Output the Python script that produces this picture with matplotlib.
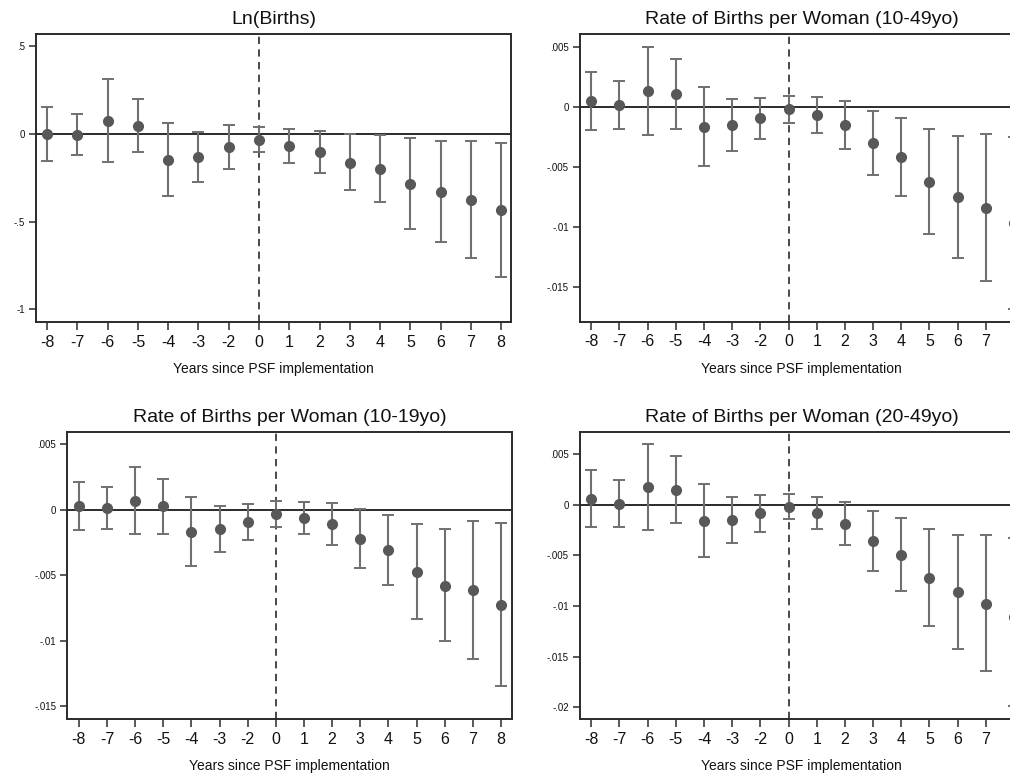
import matplotlib
matplotlib.use("Agg")
import matplotlib.pyplot as plt
import numpy as np

plt.rcParams["font.family"] = ["Liberation Sans", "DejaVu Sans"]

# ---- data ----
year_labels = ["-8", "-7", "-6", "-5", "-4", "-3", "-2", "0",
               "1", "2", "3", "4", "5", "6", "7", "8"]

ln_coef = [0.000, -0.004, 0.076, 0.046, -0.148, -0.133, -0.076, -0.034,
           -0.068, -0.103, -0.163, -0.200, -0.285, -0.331, -0.375, -0.435]
ln_hi = [0.156, 0.114, 0.312, 0.198, 0.065, 0.010, 0.049, 0.040,
         0.030, 0.015, -0.002, -0.006, -0.023, -0.042, -0.038, -0.049]
ln_lo = [-0.152, -0.120, -0.162, -0.105, -0.356, -0.274, -0.200, -0.103,
         -0.163, -0.220, -0.319, -0.388, -0.542, -0.614, -0.709, -0.817]

r1049_coef = [0.00050, 0.00011, 0.00133, 0.00103, -0.00167, -0.00156, -0.00097, -0.00022,
              -0.00072, -0.00156, -0.00306, -0.00422, -0.00628, -0.00756, -0.00844, -0.00967]
r1049_hi = [0.00292, 0.00217, 0.00500, 0.00394, 0.00167, 0.00061, 0.00072, 0.00092,
            0.00081, 0.00047, -0.00033, -0.00092, -0.00183, -0.00244, -0.00231, -0.00255]
r1049_lo = [-0.00192, -0.00189, -0.00236, -0.00186, -0.00497, -0.00369, -0.00267, -0.00136,
            -0.00222, -0.00350, -0.00572, -0.00744, -0.01061, -0.01264, -0.01456, -0.01688]

r1019_coef = [0.00028, 0.00015, 0.00063, 0.00028, -0.00170, -0.00145, -0.00096, -0.00036,
              -0.00063, -0.00109, -0.00221, -0.00310, -0.00472, -0.00579, -0.00614, -0.00726]
r1019_hi = [0.00208, 0.00175, 0.00327, 0.00236, 0.00096, 0.00030, 0.00043, 0.00063,
            0.00061, 0.00053, 0.00008, -0.00041, -0.00109, -0.00150, -0.00089, -0.00104]
r1019_lo = [-0.00152, -0.00145, -0.00188, -0.00183, -0.00431, -0.00320, -0.00234, -0.00129,
            -0.00188, -0.00272, -0.00442, -0.00574, -0.00835, -0.01005, -0.01137, -0.01343]

r2049_coef = [0.00059, 0.00010, 0.00171, 0.00148, -0.00158, -0.00155, -0.00086, -0.00023,
              -0.00082, -0.00188, -0.00362, -0.00494, -0.00722, -0.00867, -0.00979, -0.01113]
r2049_hi = [0.00343, 0.00247, 0.00603, 0.00481, 0.00204, 0.00079, 0.00096, 0.00102,
            0.00079, 0.00030, -0.00063, -0.00128, -0.00240, -0.00303, -0.00303, -0.00326]
r2049_lo = [-0.00224, -0.00217, -0.00254, -0.00185, -0.00514, -0.00382, -0.00270, -0.00142,
            -0.00244, -0.00402, -0.00656, -0.00853, -0.01199, -0.01427, -0.01647, -0.01989]

panels = [
    dict(title="Ln(Births)", coef=ln_coef, lo=ln_lo, hi=ln_hi,
         yticks=[0.5, 0, -0.5, -1], ylabels=[".5", "0", "-.5", "-1"],
         ylim=(-1.072, 0.570), xlim=(-0.37, 15.33),
         rect=[0.0356, 0.5845, 0.4705, 0.3716]),
    dict(title="Rate of Births per Woman (10-49yo)", coef=r1049_coef, lo=r1049_lo, hi=r1049_hi,
         yticks=[0.005, 0, -0.005, -0.01, -0.015], ylabels=[".005", "0", "-.005", "-.01", "-.015"],
         ylim=(-0.01792, 0.00606), xlim=(-0.40, 15.32),
         rect=[0.5743, 0.5849, 0.4386, 0.3712]),
    dict(title="Rate of Births per Woman (10-19yo)", coef=r1019_coef, lo=r1019_lo, hi=r1019_hi,
         yticks=[0.005, 0, -0.005, -0.01, -0.015], ylabels=[".005", "0", "-.005", "-.01", "-.015"],
         ylim=(-0.01598, 0.00594), xlim=(-0.41, 15.38),
         rect=[0.0666, 0.0719, 0.4400, 0.3711]),
    dict(title="Rate of Births per Woman (20-49yo)", coef=r2049_coef, lo=r2049_lo, hi=r2049_hi,
         yticks=[0.005, 0, -0.005, -0.01, -0.015, -0.02],
         ylabels=[".005", "0", "-.005", "-.01", "-.015", "-.02"],
         ylim=(-0.0212, 0.00721), xlim=(-0.40, 15.32),
         rect=[0.5743, 0.0719, 0.4386, 0.3711]),
]

fig = plt.figure(figsize=(10.1, 7.75), dpi=100)
x = np.arange(len(year_labels))
ref_idx = year_labels.index("0")
frame_c = "#2b2b2b"

for p in panels:
    ax = fig.add_axes(p["rect"])
    coef = np.array(p["coef"])
    lo = np.array(p["lo"])
    hi = np.array(p["hi"])
    ax.axhline(0, color=frame_c, lw=1.4, zorder=1)
    ax.axvline(ref_idx, color="#3a3a3a", lw=1.3, ls=(0, (4, 3)), zorder=1)
    ax.errorbar(x, coef, yerr=[coef - lo, hi - coef], fmt="none",
                ecolor="#707070", elinewidth=1.5, capsize=4.2, capthick=1.4, zorder=2)
    ax.plot(x, coef, "o", ms=7, color="#585858", zorder=3)
    ax.set_xlim(*p["xlim"])
    ax.set_ylim(*p["ylim"])
    ax.set_xticks(x)
    ax.set_xticklabels(year_labels, fontsize=11.5, color="#111111")
    ax.set_yticks(p["yticks"])
    ax.set_yticklabels(p["ylabels"], fontsize=7, color="#111111")
    ax.tick_params(axis="x", direction="out", length=6, width=1.1, pad=3, color=frame_c)
    ax.tick_params(axis="y", direction="out", length=5, width=1.1, pad=3, color=frame_c)
    for s in ax.spines.values():
        s.set_color(frame_c)
        s.set_linewidth(1.4)
    ax.set_title(p["title"], fontsize=14, color="#111111", pad=7)
    ax.set_xlabel("Years since PSF implementation", fontsize=10, color="#111111", labelpad=9)

fig.savefig("out.png", dpi=100)
